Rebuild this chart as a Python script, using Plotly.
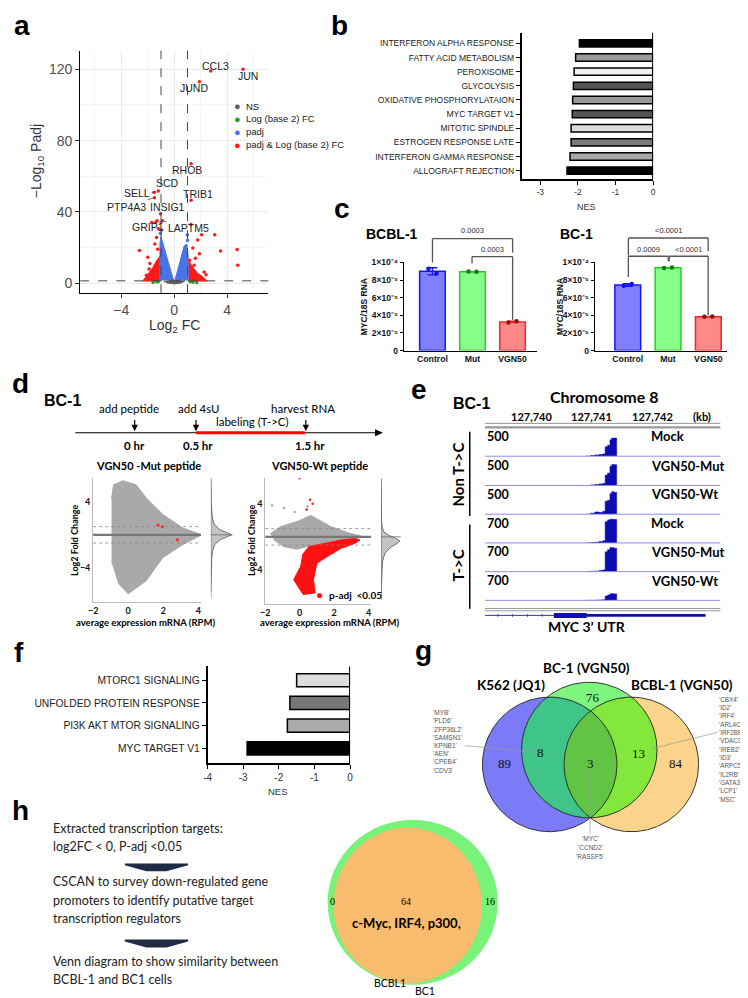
import numpy as np
import plotly.graph_objects as go

W, H = 748, 998
SANS = "Liberation Sans, Arial, sans-serif"
CAL = "Lato, Open Sans, sans-serif"
SERIF = "Liberation Serif, Times New Roman, serif"

# ---------------- DATA ----------------
# (a) volcano
volc_ns_x = [-0.8, -0.5, 0.0, 0.5, 0.8, 0.4, 0.0, -0.4]
volc_ns_y = [1.2, 0.1, -0.4, 0.1, 1.2, 1.6, 1.7, 1.6]
volc_padj_left_x = [-0.05, -0.9, -1.0, -1.08, -1.08]
volc_padj_left_y = [1.5, 24, 26, 22, 1.5]
volc_padj_right_x = [0.05, 0.75, 0.95, 1.05, 1.05]
volc_padj_right_y = [1.5, 21, 22, 15, 1.5]
volc_padj_pts_x = [-1.0, -0.95, -1.05, 0.98, 1.0, -0.6]
volc_padj_pts_y = [34, 30, 28, 27, 24, 12]
volc_sig_left_x = [-2.4, -2.0, -1.6, -1.3, -1.1, -1.1]
volc_sig_left_y = [1.0, 5.0, 9.0, 13.0, 15.0, 0.8]
volc_sig_right_x = [1.1, 1.1, 1.3, 1.7, 2.3, 2.5]
volc_sig_right_y = [0.8, 13.0, 10.0, 6.0, 2.5, 1.0]
volc_sig_pts_x = [-2.63, -2.0, -1.47, -1.34, -1.2, -1.7, -1.4, 3.06, 3.5, 4.75, 4.8, 2.07, 1.77, 1.4,
                  1.27, 1.9, 2.26, 1.5, 1.15, 2.0, -1.84, -1.6, -2.1, 1.6, 2.4, -1.9, -1.25]
volc_sig_pts_y = [18.3, 14.6, 22, 25.7, 30.5, 34, 34, 27.2, 18, 18.9, 10, 27.2, 24.3, 19.8,
                  33, 16.5, 6.3, 10, 12.8, 3.5, 11, 6.3, 4.4, 14, 4.8, 8, 19]
volc_fc_x = [-1.3, -1.2, 1.2, 1.4, -1.6, 1.7]
volc_fc_y = [0.6, 1.0, 0.8, 0.5, 0.4, 0.3]
volc_genes = ["CCL3", "JUN", "JUND", "RHOB", "SCD", "SELL", "TRIB1", "PTP4A3", "INSIG1", "GRIP1", "LAPTM5"]
volc_gene_x = [2.76, 5.2, 1.9, 1.27, -1.2, -1.5, 1.27, -1.5, -1.04, -1.3, -0.9]
volc_gene_y = [119, 120, 113, 67, 51.7, 51, 46.5, 48, 39, 35, 35]
volc_label_x = [3.1, 5.6, 1.5, 0.97, -0.5, -2.8, 1.8, -3.6, -0.5, -2.0, 1.1]
volc_label_y = [122, 116, 109.5, 63.7, 56, 50.6, 50, 43, 43, 31.7, 31]
volc_leader = [False, False, False, False, False, True, False, True, True, False, True]
volc_legend = ["NS", "Log (base 2) FC", "padj", "padj & Log (base 2) FC"]

# (b) GSEA
b_terms = ["INTERFERON ALPHA RESPONSE", "FATTY ACID METABOLISM", "PEROXISOME", "GLYCOLYSIS",
           "OXIDATIVE PHOSPHORYLATAION", "MYC TARGET V1", "MITOTIC SPINDLE", "ESTROGEN RESPONSE LATE",
           "INTERFERON GAMMA RESPONSE", "ALLOGRAFT REJECTION"]
b_nes = [-1.96, -2.06, -2.10, -2.12, -2.14, -2.15, -2.18, -2.18, -2.21, -2.29]
b_colors = ["#000000", "#9a9a9a", "#f0f0f0", "#555555", "#9a9a9a", "#555555", "#dcdcdc", "#7a7a7a", "#a8a8a8", "#000000"]

# (c) qPCR
c_groups = ["Control", "Mut", "VGN50"]
c_bcbl_mean = [9.0e-5, 8.95e-5, 3.25e-5]
c_bcbl_err = [0.4e-5, 0.03e-5, 0.08e-5]
c_bcbl_pts = [[9.3e-5, 8.75e-5], [8.97e-5, 8.95e-5], [3.18e-5, 3.32e-5]]
c_bc1_mean = [7.45e-5, 9.4e-5, 3.85e-5]
c_bc1_err = [0.15e-5, 0.03e-5, 0.03e-5]
c_bc1_pts = [[7.35e-5, 7.55e-5], [9.38e-5, 9.42e-5], [3.83e-5, 3.87e-5]]
c_pvals_bcbl = ["0.0003", "0.0003"]
c_pvals_bc1 = ["<0.0001", "0.0009", "<0.0001"]
c_ticks = ["0", "2×10⁻⁵", "4×10⁻⁵", "6×10⁻⁵", "8×10⁻⁵", "1×10⁻⁴"]

# (d) MA plots (cloud outlines)
d_mut_cloud_x = [-0.95, -0.83, -0.3, 0.45, 1.03, 1.97, 3.1, 4.2, 3.1, 1.97, 1.03, 0.0, -0.53, -0.95]
d_mut_cloud_y = [4.5, 6.1, 6.6, 6.1, 4.5, 2.5, 0.85, 0.0, -1.2, -2.8, -5.6, -7.2, -6.0, -3.2]
d_mut_red_x = [1.7, 1.95, 2.8]
d_mut_red_y = [1.2, 1.0, -0.6]
d_wt_grey_x = [-1.7, -1.1, -0.15, 0.65, 1.8, 2.95, 3.75, 2.9, 1.5, 0.4, -0.15, -0.9, -1.5]
d_wt_grey_y = [0.4, 1.25, 1.85, 2.6, 1.25, 0.4, 0.0, -0.3, -0.8, -1.2, -1.5, -1.2, -0.4]
d_wt_red_x = [0.5, 1.4, 2.4, 3.2, 3.5, 3.2, 2.4, 1.6, 1.0, 0.8, 0.9, 0.2, -0.35, 0.05, 0.2]
d_wt_red_y = [-1.2, -0.8, -0.4, -0.2, -0.4, -0.8, -1.4, -2.4, -3.2, -5.2, -6.8, -7.0, -5.2, -3.6, -2.0]
d_wt_redpts_x = [-0.01, 0.4, 0.6, 0.75]
d_wt_redpts_y = [7.1, 3.3, 4.5, 4.0]
d_wt_greypts_x = [-0.9, -1.6, 0.45, -0.3]
d_wt_greypts_y = [3.5, 3.8, 3.7, 3.0]
d_dens_mut_y = [-7, -4, -3, -2, -1.2, -0.6, -0.2, 0, 0.2, 0.6, 1.2, 2, 3, 4, 7]
d_dens_mut_v = [0, 0.02, 0.04, 0.08, 0.18, 0.45, 0.85, 1.0, 0.85, 0.45, 0.18, 0.08, 0.04, 0.02, 0]
d_dens_wt_y = [-7, -4, -3, -2, -1.3, -0.8, -0.5, -0.2, 0.2, 0.6, 1.2, 2, 4, 7]
d_dens_wt_v = [0, 0.03, 0.08, 0.2, 0.5, 0.85, 1.0, 0.8, 0.4, 0.15, 0.06, 0.03, 0.01, 0]

# (e) coverage tracks
e_pos_kb = [127740.90, 127740.98, 127741.05, 127741.12, 127741.18, 127741.22, 127741.26,
            127741.30, 127741.33, 127741.37, 127741.41]
e_tracks = [
    ("Mock", 500, [0, 15, 25, 35, 45, 190, 220, 330, 366, 366, 0]),
    ("VGN50-Mut", 500, [0, 12, 20, 30, 40, 210, 250, 390, 426, 420, 0]),
    ("VGN50-Wt", 500, [0, 20, 45, 35, 60, 260, 280, 420, 454, 440, 0]),
    ("Mock", 700, [0, 10, 20, 40, 60, 600, 650, 672, 672, 665, 0]),
    ("VGN50-Mut", 700, [0, 10, 15, 30, 50, 560, 620, 680, 675, 660, 0]),
    ("VGN50-Wt", 700, [0, 0, 5, 10, 15, 120, 150, 185, 188, 180, 0]),
]
e_ticks = ["127,740", "127,741", "127,742"]

# (f) GSEA
f_terms = ["MTORC1 SIGNALING", "UNFOLDED PROTEIN RESPONSE", "PI3K AKT MTOR SIGNALING", "MYC TARGET V1"]
f_nes = [-1.5, -1.69, -1.76, -2.89]
f_colors = ["#dddddd", "#777777", "#aaaaaa", "#000000"]

# (g) Venn
g_sets = ["K562 (JQ1)", "BC-1 (VGN50)", "BCBL-1 (VGN50)"]
g_counts = {"K": "89", "KB": "8", "B": "76", "KBC": "3", "BC": "13", "C": "84"}
g_left_genes = ["'MYB'", "'PLD6'", "'ZFP36L2'", "'SAMSN1'", "'KPNB1'", "'AEN'", "'CPEB4'", "'CDV3'"]
g_right_genes = ["'CBX4'", "'ID2'", "'IRF4'", "'ARL4C'", "'IRF2BPL'", "'VDAC3'", "'IREB2'", "'ID3'",
                 "'ARPC5'", "'IL2RB'", "'GATA3'", "'LCP1'", "'MSC'"]
g_center_genes = ["'MYC'", "'CCND2'", "'RASSF5'"]

# (h)
h_steps = ["Extracted transcription targets:", "log2FC < 0, P-adj <0.05", None,
           "CSCAN to survey down-regulated gene", "promoters to identify putative target",
           "transcription regulators", None,
           "Venn diagram to show similarity between", "BCBL-1 and BC1 cells"]
h_counts = ["0", "64", "16"]
h_regulators = "c-Myc, IRF4, p300,"

# ---------------- helpers ----------------
def PX(x): return x / W
def PY(y): return 1 - y / H
def dx(a, b): return [a / W, b / W]
def dy(top, bot): return [1 - bot / H, 1 - top / H]

ann, shp = [], []
def T(x, y, s, size=12, color="#000", family=SANS, bold=False, xa="center", ya="middle", angle=0):
    ann.append(dict(xref="paper", yref="paper", x=PX(x), y=PY(y), text=s,
                    showarrow=False, xanchor=xa, yanchor=ya, textangle=angle,
                    font=dict(size=size, color=color, family=family, weight="bold" if bold else "normal")))
def L(x0, y0, x1, y1, color="#000", width=1, dash="solid"):
    shp.append(dict(type="line", xref="paper", yref="paper", x0=PX(x0), y0=PY(y0), x1=PX(x1), y1=PY(y1),
                    line=dict(color=color, width=width, dash=dash)))
def R(x0, y0, x1, y1, fill, lw=0, lc=None):
    shp.append(dict(type="rect", xref="paper", yref="paper", x0=PX(x0), y0=PY(y0), x1=PX(x1), y1=PY(y1),
                    fillcolor=fill, line=dict(width=lw, color=lc or fill)))
def POLY(pts, fill):
    path = "M " + " L ".join(f"{PX(a)} {PY(b)}" for a, b in pts) + " Z"
    shp.append(dict(type="path", xref="paper", yref="paper", path=path, fillcolor=fill, line=dict(width=0)))

axes = {}
def xid(n): return "x" if n == 1 else f"x{n}"
def yid(n): return "y" if n == 1 else f"y{n}"
def axis_pair(n, xdom, ydom, xopt, yopt):
    base = dict(showgrid=False, zeroline=False)
    xa = dict(base); xa.update(xopt); xa.update(domain=xdom, anchor=yid(n))
    ya = dict(base); ya.update(yopt); ya.update(domain=ydom, anchor=xid(n))
    axes["xaxis" if n == 1 else f"xaxis{n}"] = xa
    axes["yaxis" if n == 1 else f"yaxis{n}"] = ya

fig = go.Figure()
def add(tr, n):
    tr.update(xaxis=xid(n), yaxis=yid(n), showlegend=False, hoverinfo="skip")
    fig.add_trace(tr)

# ---------------- panel letters ----------------
for ch, x, y in [("a", 9, 13), ("b", 330, 13), ("c", 333, 197), ("d", 8, 374), ("e", 410, 380),
                 ("f", 6, 646), ("g", 415, 644), ("h", 8, 806)]:
    T(x, y, ch, size=28, bold=True)

# ---------------- (a) volcano ----------------
tf = dict(family=SANS, size=14, color="#4d4d4d")
axis_pair(1, dx(68, 258), dy(38, 283),
          dict(range=[-7.1, 7.1], tick0=0, dtick=4, showline=True, linecolor="#000", linewidth=1.3,
               ticks="outside", ticklen=4, tickcolor="#333", tickfont=tf, showgrid=True, gridcolor="#ebebeb",
               minor=dict(dtick=2, tick0=0, showgrid=True, gridcolor="#f5f5f5")),
          dict(range=[-5.6, 130.5], tick0=0, dtick=40, showline=True, linecolor="#000", linewidth=1.3,
               ticks="outside", ticklen=4, tickcolor="#333", tickfont=tf, showgrid=True, gridcolor="#ebebeb",
               minor=dict(dtick=20, tick0=0, showgrid=True, gridcolor="#f5f5f5")))
RED, BLUE, GREY, GREEN = "#ff1a1a", "#4a73e8", "#5e5e5e", "#2ca02c"
add(go.Scatter(x=volc_sig_left_x, y=volc_sig_left_y, fill="toself", mode="lines", fillcolor=RED, line=dict(color=RED, width=1)), 1)
add(go.Scatter(x=volc_sig_right_x, y=volc_sig_right_y, fill="toself", mode="lines", fillcolor=RED, line=dict(color=RED, width=1)), 1)
add(go.Scatter(x=volc_padj_left_x, y=volc_padj_left_y, fill="toself", mode="lines", fillcolor=BLUE, line=dict(color=BLUE, width=1)), 1)
add(go.Scatter(x=volc_padj_right_x, y=volc_padj_right_y, fill="toself", mode="lines", fillcolor=BLUE, line=dict(color=BLUE, width=1)), 1)
add(go.Scatter(x=volc_ns_x, y=volc_ns_y, fill="toself", mode="lines", fillcolor=GREY, line=dict(color=GREY, width=1)), 1)
add(go.Scatter(x=volc_padj_pts_x, y=volc_padj_pts_y, mode="markers", marker=dict(color=BLUE, size=3.5)), 1)
add(go.Scatter(x=volc_fc_x, y=volc_fc_y, mode="markers", marker=dict(color=GREEN, size=3.5)), 1)
add(go.Scatter(x=volc_sig_pts_x, y=volc_sig_pts_y, mode="markers", marker=dict(color=RED, size=3.5)), 1)
add(go.Scatter(x=volc_gene_x, y=volc_gene_y, mode="markers", marker=dict(color=RED, size=3.5)), 1)
for xv in (-1, 1):
    shp.append(dict(type="line", xref="x", yref="y domain", x0=xv, x1=xv, y0=0, y1=1,
                    line=dict(color="#444", width=1, dash="dash")))
shp.append(dict(type="line", xref="x domain", yref="y", x0=0, x1=1, y0=1.3, y1=1.3,
                line=dict(color="#444", width=1, dash="dash")))
for g, gx, gy, lx, ly, lead in zip(volc_genes, volc_gene_x, volc_gene_y, volc_label_x, volc_label_y, volc_leader):
    if lead:
        ann.append(dict(xref="x", yref="y", x=gx, y=gy, ax=lx, ay=ly, axref="x", ayref="y", text=g,
                        showarrow=True, arrowhead=2 if g == "SELL" else 0, arrowsize=0.6, arrowwidth=0.8,
                        arrowcolor="#555", font=dict(family=SANS, size=10.5, color="#222")))
    else:
        ann.append(dict(xref="x", yref="y", x=lx, y=ly, text=g, showarrow=False,
                        font=dict(family=SANS, size=10.5, color="#222")))
for i, (lab, col) in enumerate(zip(volc_legend, [GREY, GREEN, BLUE, RED])):
    yy = 94 + i * 13
    T(227, yy, "●", size=11, color=col)
    T(234, yy, lab, size=9.5, color="#222", xa="left")
T(25, 150, "−Log<sub>10</sub> Padj", size=14, color="#333", angle=-90)
T(163, 316, "Log<sub>2</sub> FC", size=14, color="#333")

# ---------------- (b) GSEA bars ----------------
axis_pair(2, dx(514, 647), dy(20, 168),
          dict(range=[-3.5, 0], tickvals=[-3, -2, -1, 0], ticktext=["-3", "-2", "-1", "0"], showline=True,
               linecolor="#000", linewidth=1.5, ticks="outside", ticklen=4, tickcolor="#000",
               tickfont=dict(family=SANS, size=8.5, color="#333")),
          dict(type="category", range=[9.61, -0.75], showline=True, linecolor="#000", linewidth=1.5,
               ticks="outside", ticklen=4, tickcolor="#000", tickfont=dict(family=SANS, size=8.5, color="#222")))
add(go.Bar(y=b_terms, x=b_nes, orientation="h", width=0.52,
           marker=dict(color=b_colors, line=dict(color="#000", width=1.5))), 2)
shp.append(dict(type="line", xref="x2", yref="y2 domain", x0=0, x1=0, y0=0, y1=1, line=dict(color="#000", width=2)))
T(580, 196, "NES", size=9, color="#333")

# ---------------- (c) qPCR ----------------
ctick_v = [0, 2e-5, 4e-5, 6e-5, 8e-5, 1e-4]
bar_fill = ["#8080ff", "#88ff88", "#ff8888"]
bar_line = ["#1515ff", "#22d022", "#ff2020"]
pt_col = ["#1010e0", "#137a13", "#8a1010"]
for n, xl, xr, rng, means, errs, pts in [
        (3, 395, 530, [-0.716, 2.62], c_bcbl_mean, c_bcbl_err, c_bcbl_pts),
        (4, 588, 722, [-0.82, 2.47], c_bc1_mean, c_bc1_err, c_bc1_pts)]:
    axis_pair(n, dx(xl, xr), dy(252, 341),
              dict(range=rng, tickvals=[0, 1, 2], ticktext=c_groups, showline=True,
                   linecolor="#000", linewidth=1.3, ticks="",
                   tickfont=dict(family=SANS, size=8.7, color="#111", weight="bold")),
              dict(range=[0, 1e-4], tickvals=ctick_v, ticktext=c_ticks, showline=True, linecolor="#000",
                   linewidth=1.3, ticks="outside", ticklen=3, tickcolor="#000",
                   tickfont=dict(family=SANS, size=8.5, color="#111", weight="bold")))
    for i in range(3):
        add(go.Bar(x=[i], y=[means[i]], width=0.64,
                   marker=dict(color=bar_fill[i], line=dict(color=bar_line[i], width=1.5)),
                   error_y=dict(type="data", array=[errs[i]], color=bar_line[i], thickness=1.3, width=5)), n)
        add(go.Scatter(x=[i - 0.1, i + 0.1], y=pts[i], mode="markers",
                       marker=dict(color=pt_col[i], size=4.5)), n)
T(355, 297, "MYC/18S RNA", size=8.5, bold=True, color="#111", angle=-90)
T(553, 297, "MYC/18S RNA", size=8.5, bold=True, color="#111", angle=-90)
T(383, 223, "BCBL-1", size=14, bold=True)
T(570, 223, "BC-1", size=14, bold=True)
BR = "#555"
def bracket(x0, x1, yb, yl, yr, label, ty):
    L(x0, yb, x1, yb, BR, 1.3); L(x0, yb, x0, yl, BR, 1.3); L(x1, yb, x1, yr, BR, 1.3)
    T((x0 + x1) / 2, ty, label, size=7.5, color="#333")
bracket(424, 505, 228, 252, 242, c_pvals_bcbl[0], 220)
bracket(464, 505, 246, 253, 310, c_pvals_bcbl[1], 239)
bracket(622, 702.7, 227.3, 245, 240.7, c_pvals_bc1[0], 219.3)
bracket(622, 662.3, 245.7, 266.7, 250.7, c_pvals_bc1[1], 239.3)
bracket(663.3, 702.7, 245.7, 250.7, 305, c_pvals_bc1[2], 239.3)

# ---------------- (d) timeline + MA plots ----------------
T(50, 391, "BC-1", size=16, bold=True)
L(63, 424, 366, 424, "#000", 1.2)
POLY([(366, 420.5), (374, 424), (366, 427.5)], "#000")
L(185, 424, 295, 424, "#ff0000", 3)
for xa_ in (123, 185, 296):
    L(xa_, 411, xa_, 417, "#000", 1.2)
    POLY([(xa_ - 3.2, 416), (xa_ + 3.2, 416), (xa_, 422.5)], "#000")
T(117, 400, "add peptide", size=11.5, family=CAL)
T(188, 400, "add 4sU", size=11.5, family=CAL)
T(293, 400, "harvest RNA", size=11.5, family=CAL)
T(242, 413, "labeling (T-&gt;C)", size=11.5, family=CAL)
T(123, 437, "0 hr", size=11.5, family=CAL, bold=True)
T(187, 437, "0.5 hr", size=11.5, family=CAL, bold=True)
T(300, 437, "1.5 hr", size=11.5, family=CAL, bold=True)

ma_x = dict(range=[-2, 4.15], tickvals=[-2, 0, 2, 4], showline=True, linecolor="#bbb", linewidth=1,
            ticks="", tickfont=dict(family=CAL, size=9, color="#111", weight="bold"))
ma_y = dict(tickvals=[-4, 4], showline=True, linecolor="#bbb", linewidth=1, ticks="",
            tickfont=dict(family=CAL, size=9, color="#111", weight="bold"))
axis_pair(5, dx(81, 190), dy(470, 595), ma_x, dict(ma_y, range=[-8.2, 6.9]))
axis_pair(6, dx(200, 222), dy(470, 595), dict(range=[0, 1.05], visible=False), dict(range=[-8.2, 6.9], visible=False))
axis_pair(7, dx(255, 362), dy(470, 597), ma_x, dict(ma_y, range=[-8.15, 7.1]))
axis_pair(8, dx(372, 392), dy(470, 597), dict(range=[0, 1.05], visible=False), dict(range=[-8.15, 7.1], visible=False))
CG = "#a9a9a9"
add(go.Scatter(x=d_mut_cloud_x, y=d_mut_cloud_y, fill="toself", mode="lines", fillcolor=CG,
               line=dict(color=CG, width=1)), 5)
add(go.Scatter(x=d_mut_red_x, y=d_mut_red_y, mode="markers", marker=dict(color="#ff2020", size=3)), 5)
add(go.Scatter(x=d_wt_grey_x, y=d_wt_grey_y, fill="toself", mode="lines", fillcolor=CG,
               line=dict(color=CG, width=1)), 7)
add(go.Scatter(x=d_wt_greypts_x, y=d_wt_greypts_y, mode="markers", marker=dict(color=CG, size=2.5)), 7)
add(go.Scatter(x=d_wt_red_x, y=d_wt_red_y, fill="toself", mode="lines", fillcolor="#ff1010",
               line=dict(color="#ff1010", width=1)), 7)
add(go.Scatter(x=d_wt_redpts_x, y=d_wt_redpts_y, mode="markers", marker=dict(color="#ff1010", size=2.5)), 7)
for n in (5, 7):
    shp.append(dict(type="line", xref=f"x{n} domain", yref=f"y{n}", x0=0, x1=1, y0=0, y1=0,
                    line=dict(color="#777", width=2.2)))
    for yv in (-1, 1):
        shp.append(dict(type="line", xref=f"x{n} domain", yref=f"y{n}", x0=0, x1=1, y0=yv, y1=yv,
                        line=dict(color="#888", width=0.8, dash="dot")))
for n, dv, dyy in [(6, d_dens_mut_v, d_dens_mut_y), (8, d_dens_wt_v, d_dens_wt_y)]:
    add(go.Scatter(x=dv, y=dyy, fill="tozerox", mode="lines", fillcolor="#c4c4c4",
                   line=dict(color="#555", width=0.8)), n)
    shp.append(dict(type="line", xref=f"x{n}", yref=f"y{n} domain", x0=0, x1=0, y0=0.03, y1=1,
                    line=dict(color="#666", width=1)))
    shp.append(dict(type="line", xref=f"x{n} domain", yref=f"y{n}", x0=0, x1=1, y0=0, y1=0,
                    line=dict(color="#666", width=0.8)))
T(137, 457, "VGN50 -Mut peptide", size=11, family=CAL, bold=True)
T(310, 457, "VGN50-Wt peptide", size=11, family=CAL, bold=True)
T(62, 533, "Log2 Fold Change", size=9, family=CAL, bold=True, angle=-90)
T(241, 533, "Log2 Fold Change", size=9, family=CAL, bold=True, angle=-90)
T(134, 616, "average expression mRNA (RPM)", size=9.5, family=CAL, bold=True)
T(320, 616, "average expression mRNA (RPM)", size=9.5, family=CAL, bold=True)
T(310, 588, "●", size=12, color="#ff1010")
T(317, 588, "p-adj  &lt;0.05", size=10, family=CAL, bold=True, xa="left")

# ---------------- (e) coverage tracks ----------------
T(463, 394, "BC-1", size=16, bold=True)
T(597, 387, "Chromosome 8", size=16, family=CAL, bold=True)
for lab, xv in zip(e_ticks + ["(kb)"], [524, 585, 646, 696]):
    T(xv, 408, lab, size=11, family=CAL, bold=True)
L(477, 414.5, 715, 414.5, "#777", 0.8)
L(477, 418.5, 715, 418.5, "#999", 2.2)
e_base = [447.7, 477.3, 506.3, 535.3, 564.3, 593.3]
for k, ((name, scale, vals), b) in enumerate(zip(e_tracks, e_base)):
    n = 9 + k
    axis_pair(n, dx(476.7, 715), dy(b - 25, b), dict(range=[127739.22, 127743.13], visible=False),
              dict(range=[0, scale], visible=False))
    add(go.Scatter(x=e_pos_kb, y=vals, mode="lines", line_shape="hv", fill="tozeroy",
                   fillcolor="#0b0bb0", line=dict(color="#0b0bb0", width=0.6)), n)
    L(477, b, 715, b, "#8f8fe8", 1)
    T(477, b - 20, str(scale), size=12.5, family=CAL, bold=True, xa="left")
    T(643, b - 20, name, size=13, family=CAL, bold=True, xa="left")
L(461.7, 423, 461.7, 508, "#000", 1.5)
L(461.7, 516.7, 461.7, 601.7, "#000", 1.5)
T(450, 466, "Non T-&gt;C", size=15, family=CAL, bold=True, angle=-90)
T(450, 558, "T-&gt;C", size=15, family=CAL, bold=True, angle=-90)
L(477, 601.5, 715, 601.5, "#999", 1)
L(477, 603.8, 715, 603.8, "#999", 1)
L(477, 608.5, 700, 608.5, "#3030c8", 1)
for xt in (490, 505, 520, 535):
    L(xt, 607, xt, 610, "#3030c8", 0.8)
R(546.7, 606, 580, 611, "#1010b0")
R(580, 607.2, 700, 609.8, "#1010b0")
T(580, 620, "MYC 3’ UTR", size=14, family=CAL, bold=True)

# ---------------- (f) GSEA ----------------
axis_pair(15, dx(196.7, 340.7), dy(660, 757.7),
          dict(range=[-4, 0], tickvals=[-4, -3, -2, -1, 0], ticktext=["-4", "-3", "-2", "-1", "0"],
               showline=True, linecolor="#000", linewidth=1.5, ticks="outside", ticklen=4, tickcolor="#000",
               tickfont=dict(family=SANS, size=10, color="#333")),
          dict(type="category", range=[3.65, -0.61], showline=True, linecolor="#000", linewidth=1.5,
               ticks="outside", ticklen=4, tickcolor="#000", tickfont=dict(family=SANS, size=10.3, color="#222")))
add(go.Bar(y=f_terms, x=f_nes, orientation="h", width=0.58,
           marker=dict(color=f_colors, line=dict(color="#000", width=1.5))), 15)
shp.append(dict(type="line", xref="x15", yref="y15 domain", x0=0, x1=0, y0=0, y1=1, line=dict(color="#000", width=2)))
T(268, 786, "NES", size=9.5, color="#333")

# ---------------- (g) Venn ----------------
axis_pair(16, dx(400, 748), dy(650, 840), dict(range=[400, 748], visible=False), dict(range=[840, 650], visible=False))
circles = {"K": (542.5, 759.0, 68.0), "B": (582.5, 744.5, 68.5), "C": (625.0, 759.0, 68.0)}
def circ(c, n=361):
    t = np.linspace(0, 2 * np.pi, n)
    return c[0] + c[2] * np.cos(t), c[1] + c[2] * np.sin(t)
def region(keys):
    xs, ys = [], []
    for k in keys:
        x, y = circ(circles[k], 1441)
        m = np.ones_like(x, dtype=bool)
        for k2 in keys:
            if k2 != k:
                cx, cy, r = circles[k2]
                m &= (x - cx) ** 2 + (y - cy) ** 2 <= r ** 2 + 1e-6
        xs.append(x[m]); ys.append(y[m])
    x = np.concatenate(xs); y = np.concatenate(ys)
    o = np.argsort(np.arctan2(y - y.mean(), x - x.mean()))
    return np.append(x[o], x[o][0]), np.append(y[o], y[o][0])
for k, col in [("K", "#7b7bf7"), ("C", "#fcd38a"), ("B", "#7ef57e")]:
    x, y = circ(circles[k])
    add(go.Scatter(x=x, y=y, fill="toself", mode="lines", fillcolor=col, line=dict(width=0, color=col)), 16)
for keys, col in [(["K", "C"], "#62c444"), (["K", "B"], "#3fc48a"), (["B", "C"], "#84e83c"), (["K", "B", "C"], "#62c444")]:
    x, y = region(keys)
    add(go.Scatter(x=x, y=y, fill="toself", mode="lines", fillcolor=col, line=dict(width=0, color=col)), 16)
for k in ("K", "B", "C"):
    x, y = circ(circles[k])
    add(go.Scatter(x=x, y=y, mode="lines", line=dict(width=0.9, color="#222")), 16)
T(580, 661.7, g_sets[1], size=13.5, family=CAL, bold=True)
T(503.3, 679.3, g_sets[0], size=13.5, family=CAL, bold=True)
T(676.7, 679.3, g_sets[2], size=13.5, family=CAL, bold=True)
for key, (xv, yv) in {"B": (586.7, 691), "K": (496.7, 758.3), "KB": (533.3, 747.3), "KBC": (583.3, 758.3),
                      "BC": (632.7, 748.3), "C": (670, 758.3)}.items():
    T(xv, yv, g_counts[key], size=13, family=SERIF, color="#111")
for i, gname in enumerate(g_left_genes):
    T(423, 706.7 + 8.3 * i, gname, size=6.5, color="#555", xa="left")
for i, gname in enumerate(g_right_genes):
    T(712, 693.3 + 8.4 * i, gname, size=6.3, color="#555", xa="left")
for i, gname in enumerate(g_center_genes):
    T(583.5, 833.5 + 9.2 * i, gname, size=6.5, color="#555")
L(456.7, 740, 528, 746.5, "#999", 0.7)
L(712, 726.7, 645, 743.3, "#999", 0.7)
L(583.3, 765, 583.3, 829, "#999", 0.7)

# ---------------- (h) ----------------
hy = [823.3, 841.7, 863, 877.3, 896.7, 915, 940, 958.3, 976.7]
for s, yv in zip(h_steps, hy):
    if s is None:
        xc = 145
        POLY([(xc - 32, yv - 4), (xc + 32, yv - 4), (xc + 32, yv - 2), (xc + 10, yv + 4),
              (xc - 10, yv + 4), (xc - 32, yv - 2)], "#1d2b45")
    else:
        T(38, yv, s, size=12.5, family=CAL, color="#222", xa="left")
shp.append(dict(type="circle", xref="paper", yref="paper", x0=PX(318), x1=PX(490), y0=PY(981.7), y1=PY(815),
                fillcolor="#78f278", line=dict(width=0)))
shp.append(dict(type="circle", xref="paper", yref="paper", x0=PX(324), x1=PX(474), y0=PY(980), y1=PY(823),
                fillcolor="#f9bb6e", line=dict(width=0)))
T(323, 897, h_counts[0], size=10, family=SERIF)
T(397.6, 897, h_counts[1], size=10, family=SERIF)
T(482, 897, h_counts[2], size=10, family=SERIF)
T(397.6, 919.3, h_regulators, size=13, family=CAL, bold=True)
T(381, 980, "BCBL1", size=10.5, family=CAL)
T(416.7, 988, "BC1", size=10.5, family=CAL)

fig.update_layout(width=W, height=H, margin=dict(l=0, r=0, t=0, b=0), paper_bgcolor="white",
                  plot_bgcolor="white", showlegend=False, annotations=ann, shapes=shp, bargap=0.3, **axes)
fig.write_html("out.html")
